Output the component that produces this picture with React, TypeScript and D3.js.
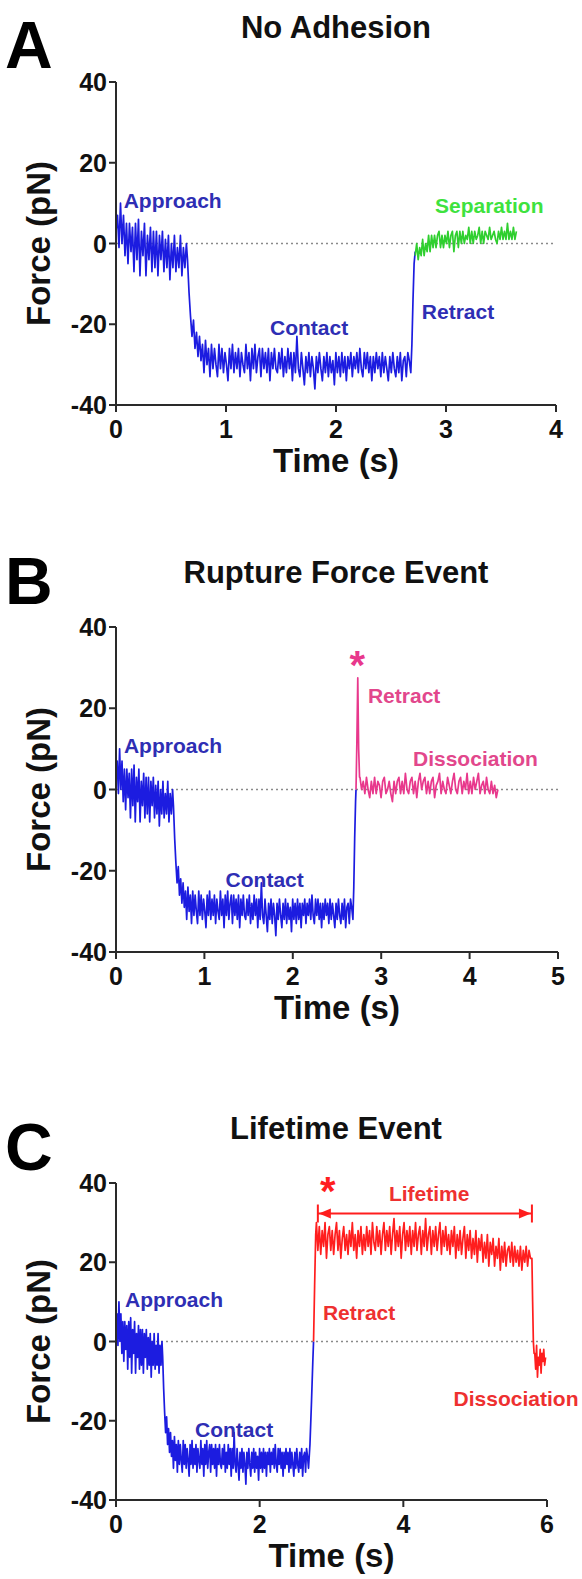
import React from "react";
import * as d3 from "d3";

// ---------------- DATA ----------------
const Y_TICKS = [-40, -20, 0, 20, 40];
const X_TICKS_A = [0, 1, 2, 3, 4];
const X_TICKS_B = [0, 1, 2, 3, 4, 5];
const X_TICKS_C = [0, 2, 4, 6];

// Approach segment (t 0 -> 0.64 s), force in pN
const approachF = [
  3, 7, -1, 10, 0, 7, -3, 5, -5, 5,
  -2, 4, -7, 5, -4, 6, -8, 3, -3, 5,
  -8, 2, -4, 4, -7, 3, -6, 3, -8, 2,
  -4, 3, -7, 1, -6, 2, -9, 0, -6, 2,
  -7, -1, -6, 2, -8, -1, -6, 0,
];
const approachT = [0, 0.64];

// Contact segment (t 0.65 -> 2.68 s)
const contactF = [
  -4, -12, -18, -23, -19, -26, -22, -28, -23, -29,
  -25, -32, -24, -30, -26, -33, -25, -31, -26, -30,
  -33, -25, -31, -26, -32, -27, -30, -34, -26, -31,
  -25, -32, -27, -31, -26, -33, -27, -30, -32, -25,
  -31, -27, -34, -26, -31, -25, -32, -28, -26, -33,
  -26, -31, -27, -32, -26, -34, -27, -31, -26, -31,
  -32, -27, -31, -26, -33, -28, -32, -26, -31, -27,
  -34, -27, -32, -23, -31, -33, -27, -31, -35, -28,
  -32, -27, -33, -28, -31, -36, -28, -32, -27, -31,
  -34, -28, -32, -27, -33, -28, -32, -29, -35, -27,
  -32, -28, -33, -27, -32, -28, -34, -28, -31, -27,
  -33, -28, -31, -27, -32, -26, -31, -33, -27, -31,
  -27, -32, -28, -34, -28, -32, -27, -31, -28, -33,
  -27, -32, -28, -31, -34, -28, -32, -27, -31, -33,
  -28, -32, -27, -34, -29, -28, -33, -27, -29, -32,
];
const contactT = [0.65, 2.68];

// Panel A: retract (blue) and separation (green)
const retractA: [number, number][] = [[2.69, -25], [2.7, -14], [2.71, -5], [2.72, -2]];
const separationF = [
  -3, 0, -4, -1, -3, 1, -3, 0, -2, 2,
  -2, 2, -1, 2, -1, 2, 3, -1, 2, -1,
  2, 0, 3, -1, 2, 3, -2, 2, 3, -1,
  3, 0, 3, 0, 2, 1, 4, 0, 3, 0,
  3, 1, 2, 4, 0, 3, 0, 3, 2, 1,
  4, 1, 2, 3, 1, 0, 3, 1, 4, 1,
  3, 1, 5, 1, 3, 1, 4, 1, 3,
];
const separationT = [2.72, 3.64];

// Panel B: retract rise (blue), rupture spike + dissociation (pink)
const retractB: [number, number][] = [[2.69, -24], [2.7, -12], [2.71, -3], [2.715, 0]];
const ruptureB: [number, number][] = [[2.715, 0], [2.725, 12], [2.735, 27.5], [2.745, 10], [2.755, 3]];
const dissociationBF = [
  3, 0, 2, -1, 3, 0, -2, 2, -1, 3,
  -1, 2, 1, -2, 2, 3, -1, 0, 2, -1,
  -3, 2, -1, 2, 3, -1, 2, -1, 4, 0,
  -1, 2, 3, -1, 2, -2, 2, 4, 0, 2,
  3, -1, 2, -1, 2, 3, -2, 1, 2, 4,
  -1, 2, 0, -1, 3, 1, -1, 2, 4, 0,
  -1, 2, 3, -1, 2, 0, 4, -1, 2, -1,
  3, 0, 2, 4, -1, 1, 2, -1, 3, 0,
  -1, 2, -1, 1, -2, 0,
];
const dissociationBT = [2.76, 4.32];

// Panel C: retract rise (blue), lifetime plateau (red), drop and dissociation (red)
const retractC: [number, number][] = [[2.7, -26], [2.72, -16], [2.74, -5], [2.75, 0]];
const riseC: [number, number][] = [[2.75, 0], [2.765, 14], [2.78, 27]];
const plateauCF = [
  30, 23, 29, 22, 28, 24, 30, 21, 27, 29,
  23, 28, 22, 27, 30, 23, 28, 21, 26, 29,
  23, 27, 22, 28, 24, 30, 23, 27, 21, 28,
  24, 29, 22, 27, 23, 29, 24, 28, 22, 30,
  25, 23, 29, 24, 28, 22, 27, 30, 23, 28,
  24, 29, 22, 27, 31, 23, 28, 24, 29, 21,
  27, 30, 23, 28, 24, 29, 22, 28, 24, 30,
  23, 27, 29, 22, 28, 24, 31, 23, 27, 29,
  22, 28, 24, 29, 23, 27, 30, 22, 28, 24,
  29, 23, 27, 22, 28, 24, 29, 21, 27, 23,
  28, 22, 26, 29, 21, 27, 23, 28, 21, 26,
  22, 28, 20, 26, 23, 27, 20, 25, 21, 27,
  19, 25, 22, 26, 19, 24, 21, 26, 18, 24,
  20, 25, 19, 23, 24, 20, 25, 19, 24, 20,
  23, 19, 24, 18, 23, 20, 24, 19, 23, 21,
];
const plateauCT = [2.79, 5.77];
const dropC: [number, number][] = [[5.79, 21], [5.8, 10], [5.81, 0], [5.82, -3]];
const tailCF = [-3, -7, -1, -9, -4, -6, -2, -8, -3, -5, -2, -6, -4];
const tailCT = [5.83, 5.98];

const lifetimeSpan = [2.81, 5.79];
const lifetimeLevel = 32.3;

// ---------------- STYLE ----------------
const FONT = "'Liberation Sans', Arial, Helvetica, sans-serif";
const BLUE = "#1c1ce0";
const BLUE_TXT = "#2e2eb4";
const GREEN = "#2fcf2f";
const GREEN_TXT = "#3ee23e";
const PINK = "#e8388c";
const PINK_TXT = "#e2478c";
const RED = "#ff1e1e";
const RED_TXT = "#ee3030";

type Pt = [number, number];

function uniform(values: number[], span: number[]): Pt[] {
  const n = values.length;
  return values.map((v, i) => [span[0] + (i * (span[1] - span[0])) / (n - 1), v] as Pt);
}

const blueBase: Pt[] = [...uniform(approachF, approachT), ...uniform(contactF, contactT)];

type Label = { text: string; t: number; f: number; color: string; anchor?: string };
type Series = { color: string; points: Pt[] };

type PanelProps = {
  letter: string;
  letterY: number;
  title: string;
  xMax: number;
  xTicks: number[];
  left: number;
  right: number;
  top: number;
  bottom: number;
  series: Series[];
  labels: Label[];
  stars?: { t: number; f: number; color: string }[];
  lifetime?: boolean;
};

function Panel(p: PanelProps) {
  const x = d3.scaleLinear().domain([0, p.xMax]).range([p.left, p.right]);
  const y = d3.scaleLinear().domain([-40, 40]).range([p.bottom, p.top]);
  const line = d3
    .line<Pt>()
    .x((d) => x(d[0]))
    .y((d) => y(d[1]));
  const axisColor = "#2a2a2a";
  const midY = (p.top + p.bottom) / 2;
  const midX = (p.left + p.right) / 2;
  return (
    <g fontFamily={FONT}>
      <text x={5} y={p.letterY} fontSize={66} fontWeight="bold" fill="#000">
        {p.letter}
      </text>
      <text x={336} y={p.top - 44} fontSize={31} fontWeight="bold" fill="#111" textAnchor="middle">
        {p.title}
      </text>
      {/* zero dotted line */}
      <line
        x1={x(0)}
        x2={x(p.xMax)}
        y1={y(0)}
        y2={y(0)}
        stroke="#8a8a8a"
        strokeWidth={1.6}
        strokeDasharray="2,3"
      />
      {p.series.map((s, i) => (
        <path key={i} d={line(s.points) || ""} fill="none" stroke={s.color} strokeWidth={1.7} strokeLinejoin="round" />
      ))}
      {/* axes */}
      <line x1={p.left} x2={p.left} y1={p.top} y2={p.bottom} stroke={axisColor} strokeWidth={2} />
      <line x1={p.left} x2={p.right} y1={p.bottom} y2={p.bottom} stroke={axisColor} strokeWidth={2} />
      {Y_TICKS.map((v) => (
        <g key={"y" + v}>
          <line x1={p.left - 7} x2={p.left} y1={y(v)} y2={y(v)} stroke={axisColor} strokeWidth={2} />
          <text x={p.left - 9} y={y(v) + 9} fontSize={25} fontWeight="bold" textAnchor="end" fill="#111">
            {v}
          </text>
        </g>
      ))}
      {p.xTicks.map((v) => (
        <g key={"x" + v}>
          <line x1={x(v)} x2={x(v)} y1={p.bottom} y2={p.bottom + 7} stroke={axisColor} strokeWidth={2} />
          <text x={x(v)} y={p.bottom + 33} fontSize={25} fontWeight="bold" textAnchor="middle" fill="#111">
            {v}
          </text>
        </g>
      ))}
      <text x={midX} y={p.bottom + 67} fontSize={33} fontWeight="bold" textAnchor="middle" fill="#111">
        Time (s)
      </text>
      <text
        transform={`translate(50,${midY}) rotate(-90)`}
        fontSize={33}
        fontWeight="bold"
        textAnchor="middle"
        fill="#111"
      >
        Force (pN)
      </text>
      {p.labels.map((l, i) => (
        <text key={i} x={x(l.t)} y={y(l.f)} fontSize={21} fontWeight="bold" fill={l.color} textAnchor={l.anchor || "start"}>
          {l.text}
        </text>
      ))}
      {(p.stars || []).map((s, i) => (
        <text key={"s" + i} x={x(s.t)} y={y(s.f) + 22} fontSize={40} fontWeight="bold" fill={s.color} textAnchor="middle">
          *
        </text>
      ))}
      {p.lifetime && (
        <g stroke={RED} fill={RED}>
          <line
            x1={x(lifetimeSpan[0])}
            x2={x(lifetimeSpan[1])}
            y1={y(lifetimeLevel)}
            y2={y(lifetimeLevel)}
            strokeWidth={2}
          />
          <line x1={x(lifetimeSpan[0])} x2={x(lifetimeSpan[0])} y1={y(lifetimeLevel) - 9} y2={y(lifetimeLevel) + 9} strokeWidth={2} />
          <line x1={x(lifetimeSpan[1])} x2={x(lifetimeSpan[1])} y1={y(lifetimeLevel) - 9} y2={y(lifetimeLevel) + 9} strokeWidth={2} />
          <polygon
            stroke="none"
            points={`${x(lifetimeSpan[0]) + 1},${y(lifetimeLevel)} ${x(lifetimeSpan[0]) + 13},${y(lifetimeLevel) - 5} ${x(lifetimeSpan[0]) + 13},${y(lifetimeLevel) + 5}`}
          />
          <polygon
            stroke="none"
            points={`${x(lifetimeSpan[1]) - 1},${y(lifetimeLevel)} ${x(lifetimeSpan[1]) - 13},${y(lifetimeLevel) - 5} ${x(lifetimeSpan[1]) - 13},${y(lifetimeLevel) + 5}`}
          />
        </g>
      )}
    </g>
  );
}

export default function App() {
  const lastBlue = contactF[contactF.length - 1];
  const endContact: Pt = [contactT[1], lastBlue];
  return (
    <svg
      width={582}
      height={1579}
      viewBox="0 0 582 1579"
      style={{ position: "absolute", left: 0, top: 0, display: "block", background: "#fff" }}
    >
      <rect x={0} y={0} width={582} height={1579} fill="#fff" />
      <Panel
        letter="A"
        letterY={68}
        title="No Adhesion"
        xMax={4}
        xTicks={X_TICKS_A}
        left={116}
        right={556}
        top={82}
        bottom={405}
        series={[
          { color: BLUE, points: [...blueBase, ...retractA] },
          { color: GREEN, points: uniform(separationF, separationT) },
        ]}
        labels={[
          { text: "Approach", t: 0.07, f: 8.8, color: BLUE_TXT },
          { text: "Contact", t: 1.4, f: -22.7, color: BLUE_TXT },
          { text: "Retract", t: 2.78, f: -18.7, color: BLUE_TXT },
          { text: "Separation", t: 2.9, f: 7.6, color: GREEN_TXT },
        ]}
      />
      <Panel
        letter="B"
        letterY={604}
        title="Rupture Force Event"
        xMax={5}
        xTicks={X_TICKS_B}
        left={116}
        right={558}
        top={627}
        bottom={952}
        series={[
          { color: BLUE, points: [...blueBase, ...retractB] },
          { color: PINK, points: [...ruptureB, ...uniform(dissociationBF, dissociationBT)] },
        ]}
        labels={[
          { text: "Approach", t: 0.09, f: 9.0, color: BLUE_TXT },
          { text: "Contact", t: 1.24, f: -24.1, color: BLUE_TXT },
          { text: "Retract", t: 2.85, f: 21.4, color: PINK_TXT },
          { text: "Dissociation", t: 3.36, f: 5.9, color: PINK_TXT },
        ]}
        stars={[{ t: 2.73, f: 32.6, color: PINK }]}
      />
      <Panel
        letter="C"
        letterY={1170}
        title="Lifetime Event"
        xMax={6}
        xTicks={X_TICKS_C}
        left={116}
        right={547}
        top={1183}
        bottom={1500}
        series={[
          { color: BLUE, points: [...blueBase, endContact, ...retractC] },
          {
            color: RED,
            points: [...riseC, ...uniform(plateauCF, plateauCT), ...dropC, ...uniform(tailCF, tailCT)],
          },
        ]}
        labels={[
          { text: "Approach", t: 0.125, f: 8.8, color: BLUE_TXT },
          { text: "Contact", t: 1.1, f: -24, color: BLUE_TXT },
          { text: "Retract", t: 2.88, f: 5.5, color: RED_TXT },
          { text: "Dissociation", t: 4.7, f: -16.4, color: RED_TXT },
          { text: "Lifetime", t: 4.36, f: 35.5, color: RED_TXT, anchor: "middle" },
        ]}
        stars={[{ t: 2.95, f: 40, color: RED }]}
        lifetime
      />
    </svg>
  );
}
